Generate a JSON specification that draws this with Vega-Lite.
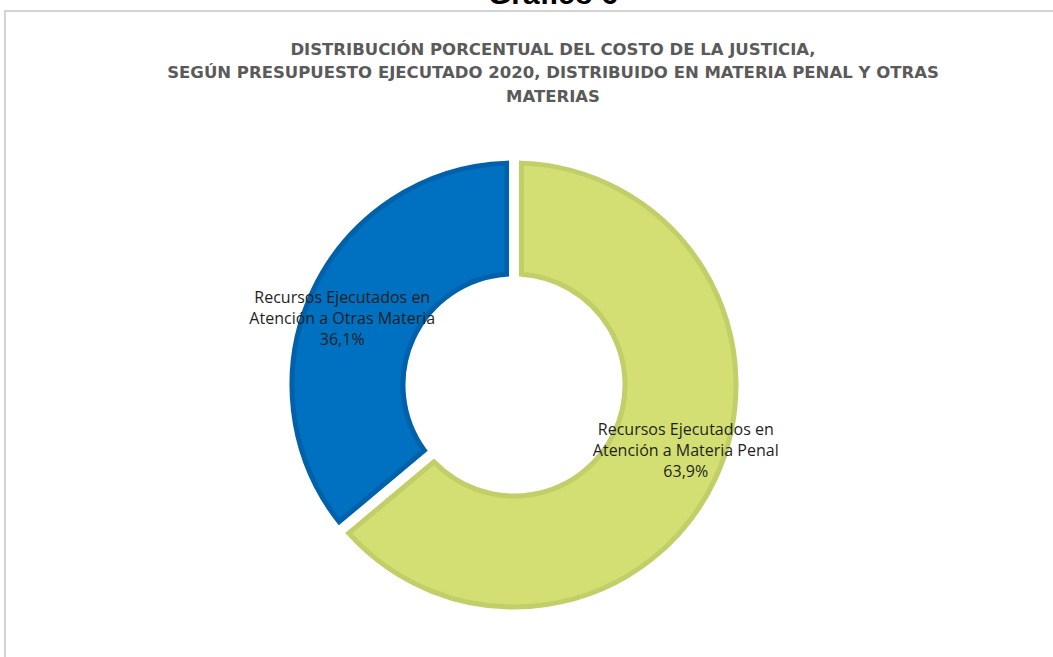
{
  "$schema": "https://vega.github.io/schema/vega-lite/v6.json",
  "width": 1096,
  "height": 748,
  "autosize": {"type": "none"},
  "padding": {"left": 5, "top": 11, "right": 0, "bottom": 0},
  "background": "white",
  "view": {"stroke": "#d3d3d3", "strokeWidth": 2},
  "title": {
    "text": "Gráfico 6",
    "subtitle": [
      "DISTRIBUCIÓN PORCENTUAL DEL COSTO DE LA JUSTICIA,",
      "SEGÚN PRESUPUESTO EJECUTADO 2020, DISTRIBUIDO EN MATERIA PENAL Y OTRAS",
      "MATERIAS"
    ],
    "font": "Liberation Sans",
    "fontSize": 30,
    "fontWeight": "bold",
    "color": "#000000",
    "subtitleFont": "DejaVu Sans",
    "subtitleFontSize": 16.5,
    "subtitleFontWeight": "bold",
    "subtitleColor": "#5a5a5a",
    "subtitleLineHeight": 23.5,
    "subtitlePadding": 32,
    "anchor": "middle",
    "offset": -94
  },
  "data": {
    "values": [
      {"categoria": "Recursos Ejecutados en Atención a Materia Penal", "valor": 63.9, "orden": 1, "etiqueta": "Recursos Ejecutados en\nAtención a Materia Penal\n63,9%"},
      {"categoria": "Recursos Ejecutados en Atención a Otras Materia", "valor": 36.1, "orden": 2, "etiqueta": "Recursos Ejecutados en\nAtención a Otras Materia\n36,1%"}
    ]
  },
  "encoding": {
    "theta": {"field": "valor", "type": "quantitative", "stack": true},
    "order": {"field": "orden", "type": "quantitative"}
  },
  "layer": [
    {
      "mark": {"type": "arc", "outerRadius": 222, "innerRadius": 111, "padAngle": 0.06, "strokeWidth": 5, "xOffset": -39},
      "encoding": {
        "color": {
          "field": "categoria", "type": "nominal",
          "scale": {"domain": ["Recursos Ejecutados en Atención a Materia Penal", "Recursos Ejecutados en Atención a Otras Materia"], "range": ["#D3DF73", "#0070C0"]},
          "legend": null
        },
        "stroke": {
          "field": "categoria", "type": "nominal",
          "scale": {"domain": ["Recursos Ejecutados en Atención a Materia Penal", "Recursos Ejecutados en Atención a Otras Materia"], "range": ["#C2CE68", "#0061AB"]},
          "legend": null
        }
      }
    },
    {
      "mark": {"type": "text", "radius": 184, "thetaOffset": -0.07, "xOffset": -39, "dy": -21, "font": "Open Sans", "fontSize": 16, "lineBreak": "\n", "lineHeight": 21, "color": "#1f1f1f"},
      "encoding": {"text": {"field": "etiqueta", "type": "nominal"}}
    }
  ]
}
